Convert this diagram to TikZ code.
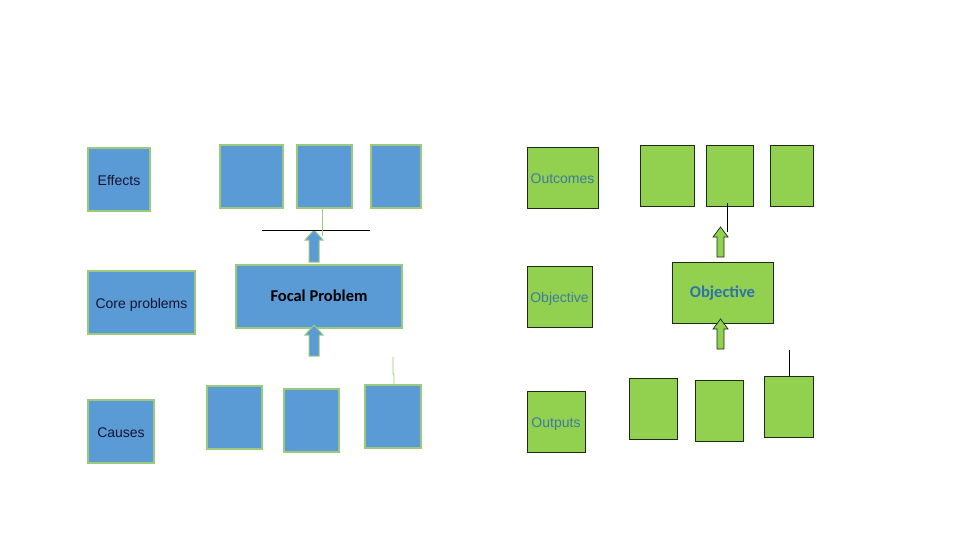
\documentclass[tikz,border=0pt]{standalone}
\usepackage{fontspec}
\setmainfont{Liberation Sans}
\newfontfamily\calib{Carlito}
\definecolor{bfill}{HTML}{5B9BD5}
\definecolor{bline}{HTML}{9CC97C}
\definecolor{gfill}{HTML}{92D050}
\definecolor{gline}{HTML}{1E2B12}
\definecolor{btext}{HTML}{141432}
\definecolor{gtext}{HTML}{3E7C9E}
\definecolor{otext}{HTML}{2F72A8}
\begin{document}
\begin{tikzpicture}[x=1pt,y=-1pt,
  bbox/.style={draw=bline,line width=1.1pt,fill=bfill,inner sep=0pt,outer sep=0pt},
  gbox/.style={draw=gline,line width=0.9pt,fill=gfill,inner sep=0pt,outer sep=0pt},
  lbl/.style={font=\fontsize{14}{16}\selectfont,text height=12pt,text depth=0pt},
  bolbl/.style={font=\calib\bfseries\fontsize{16.5}{18}\selectfont,text height=10pt,text depth=0pt},
  barrow/.style={draw=bline,line width=1pt,fill=bfill},
  garrow/.style={draw=gline,line width=0.7pt,fill=gfill},
  thing/.style={draw=bline,line width=0.9pt},
  thinb/.style={draw=black,line width=0.9pt}]
\useasboundingbox (0,0) rectangle (960,540);
% ---------- left (blue) ----------
\node[bbox,lbl,text=btext,minimum width=62,minimum height=63] (effects) at (119,179.5) {Effects};
\node[bbox,minimum width=63,minimum height=63] (e1) at (251.5,176.5) {};
\node[bbox,minimum width=55,minimum height=63] (e2) at (324.5,176.5) {};
\node[bbox,minimum width=50,minimum height=63] (e3) at (396,176.5) {};
\node[bbox,lbl,text=btext,minimum width=107,minimum height=63] (core) at (141.5,302.5) {Core problems};
\node[bbox,bolbl,text=black,minimum width=166,minimum height=63] (focal) at (319,296.5) {Focal Problem};
\node[bbox,lbl,text=btext,minimum width=66,minimum height=63] (causes) at (121,431.5) {Causes};
\node[bbox,minimum width=55,minimum height=63] (c1) at (234.5,417.5) {};
\node[bbox,minimum width=55,minimum height=63] (c2) at (311.5,420.5) {};
\node[bbox,minimum width=56,minimum height=63] (c3) at (393,416.5) {};
% block arrows (left)
\draw[barrow] (309,262) -- (309,240) -- (305,240) -- (314,230) -- (323,240) -- (319,240) -- (319,262) -- cycle;
\draw[barrow] (309,356) -- (309,335) -- (305,335) -- (314,325) -- (323,335) -- (319,335) -- (319,356) -- cycle;
% thin lines (left)
\coordinate (hl1) at (262,230);
\coordinate (hl2) at (370,230);
\draw[thinb] (hl1) -- (hl2);
\coordinate (tl1) at (322,236);
\draw[thing] (tl1 |- e2.south) -- (tl1);
\coordinate (bl1) at (393,357);
\draw[thing] (bl1) -- (393,373) -- (394,375) -- (394,375 |- c3.north);
% ---------- right (green) ----------
\node[gbox,lbl,text=gtext,minimum width=71,minimum height=61] (outcomes) at (562.5,177.5) {Outcomes};
\node[gbox,minimum width=54,minimum height=61] (o1) at (667,175.5) {};
\node[gbox,minimum width=47,minimum height=61] (o2) at (729.5,175.5) {};
\node[gbox,minimum width=43,minimum height=61] (o3) at (791.5,175.5) {};
\node[gbox,lbl,text=gtext,minimum width=65,minimum height=61] (objl) at (559.5,296.5) {Objective};
\node[gbox,bolbl,text=otext,minimum width=101,minimum height=61] (objc) at (722.5,292.5) {Objective};
\node[gbox,lbl,text=gtext,minimum width=58,minimum height=61] (outputs) at (556,421.5) {Outputs};
\node[gbox,minimum width=48,minimum height=61] (p1) at (653,408.5) {};
\node[gbox,minimum width=48,minimum height=61] (p2) at (719,410.5) {};
\node[gbox,minimum width=49,minimum height=61] (p3) at (788.5,406.5) {};
% block arrows (right)
\draw[garrow] (717,257) -- (717,237) -- (713,237) -- (720.5,227) -- (728,237) -- (724,237) -- (724,257) -- cycle;
\draw[garrow] (717,349) -- (717,329) -- (713,329) -- (720.5,319) -- (728,329) -- (724,329) -- (724,349) -- cycle;
% thin lines (right)
\coordinate (rl1) at (727,203);
\coordinate (rl2) at (727,232);
\draw[thinb] (rl1) -- (rl2);
\coordinate (rb1) at (789,350);
\draw[thinb] (rb1) -- (rb1 |- p3.north);
\end{tikzpicture}
\end{document}
